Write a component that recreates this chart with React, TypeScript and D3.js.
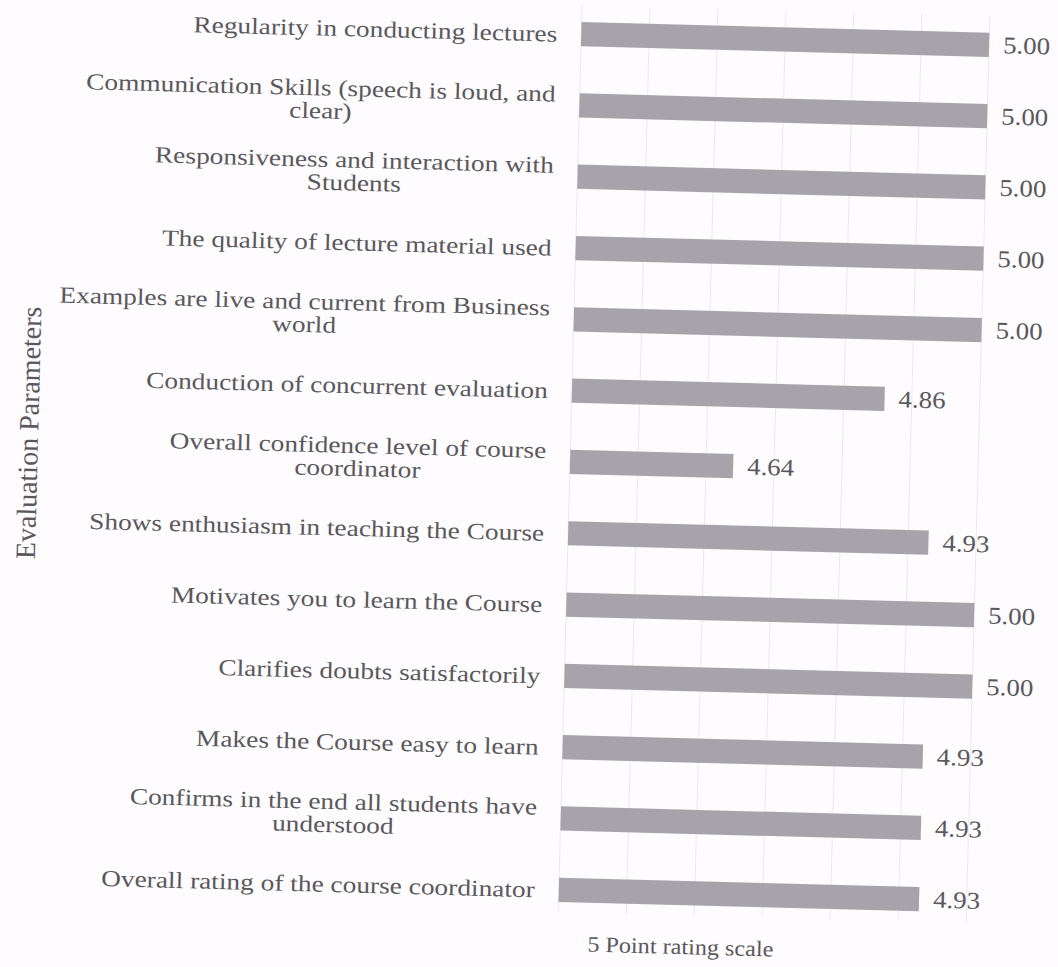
import { useEffect, useRef } from 'react'
import * as d3 from 'd3'

const CATEGORIES = [
  'Regularity in conducting lectures',
  'Communication Skills (speech is loud, and\nclear)',
  'Responsiveness and interaction with\nStudents',
  'The quality of lecture material used',
  'Examples are live and current from Business\nworld',
  'Conduction of concurrent evaluation',
  'Overall confidence level of course\ncoordinator',
  'Shows enthusiasm in teaching the Course',
  'Motivates you to learn the Course',
  'Clarifies doubts satisfactorily',
  'Makes the Course easy to learn',
  'Confirms in the end all students have\nunderstood',
  'Overall rating of the course coordinator',
]
const VALUES = [5.0, 5.0, 5.0, 5.0, 5.0, 4.86, 4.64, 4.93, 5.0, 5.0, 4.93, 4.93, 4.93]
const X_DOMAIN: [number, number] = [4.4, 5.0]
const GRID_TICKS = [4.4, 4.5, 4.6, 4.7, 4.8, 4.9, 5.0]
const X_TITLE = '5 Point rating scale'
const Y_TITLE = 'Evaluation Parameters'

const W = 1058
const H = 967
const FONT = '"Liberation Serif", "Times New Roman", serif'
const INK = '#5a585c'
const BAR = '#a7a3ab'
const GRID = '#ede8ef'
const TILT = 1.5 // the scan is a little crooked

export default function App() {
  const ref = useRef<SVGSVGElement>(null)

  useEffect(() => {
    const svg = d3.select(ref.current!)
    svg.selectAll('*').remove()
    svg.append('rect').attr('width', W).attr('height', H).attr('fill', '#fefcfe')

    const g = svg.append('g').attr('transform', `rotate(${TILT},570,463)`)

    const x = d3.scaleLinear().domain(X_DOMAIN).range([570, 978])
    const y = d3.scaleBand<number>().domain(d3.range(CATEGORIES.length))
      .range([-13.8, 937.7]).paddingInner(0.66).paddingOuter(0.5)

    g.append('g').selectAll('line').data(GRID_TICKS).join('line')
      .attr('x1', (d) => x(d)).attr('x2', (d) => x(d))
      .attr('y1', 5).attr('y2', 912)
      .attr('stroke', GRID).attr('stroke-width', 1)

    g.append('g').selectAll('rect').data(VALUES).join('rect')
      .attr('x', x(X_DOMAIN[0]))
      .attr('y', (_d, i) => y(i)!)
      .attr('width', (d) => x(d) - x(X_DOMAIN[0]))
      .attr('height', y.bandwidth())
      .attr('fill', BAR)

    // value labels
    g.append('g').selectAll('text').data(VALUES).join('text')
      .attr('transform', (d, i) => `translate(${x(d) + 14},${y(i)! + y.bandwidth() / 2}) scale(1.12,1)`)
      .attr('dominant-baseline', 'central')
      .attr('font-family', FONT).attr('font-size', 24).attr('fill', INK)
      .text((d) => d.toFixed(2))

    // category labels, wrapped lines centred on each other, block right-aligned
    const lineH = 23
    CATEGORIES.forEach((c, i) => {
      const lines = c.split('\n')
      const lg = g.append('g')
        .attr('transform', `translate(546,${y(i)! + y.bandwidth() / 2}) scale(1.19,1)`)
      const texts = lg.selectAll('text').data(lines).join('text')
        .attr('dominant-baseline', 'central')
        .attr('y', (_d, k) => (k - (lines.length - 1) / 2) * lineH)
        .attr('font-family', FONT).attr('font-size', 23).attr('fill', INK)
        .text((d) => d)
      let wMax = 0
      texts.each(function () { wMax = Math.max(wMax, (this as SVGTextElement).getComputedTextLength()) })
      texts.attr('text-anchor', 'middle').attr('x', -wMax / 2)
    })

    g.append('text')
      .attr('transform', `translate(693,951) scale(1.1,1)`)
      .attr('text-anchor', 'middle')
      .attr('font-family', FONT).attr('font-size', 22).attr('fill', INK)
      .text(X_TITLE)

    g.append('text')
      .attr('transform', 'translate(28,447) rotate(-90)')
      .attr('text-anchor', 'middle').attr('dominant-baseline', 'central')
      .attr('font-family', FONT).attr('font-size', 28).attr('fill', INK)
      .text(Y_TITLE)
  }, [])

  return (
    <svg ref={ref} width={W} height={H}
      style={{ position: 'absolute', left: 0, top: 0, display: 'block' }} />
  )
}
